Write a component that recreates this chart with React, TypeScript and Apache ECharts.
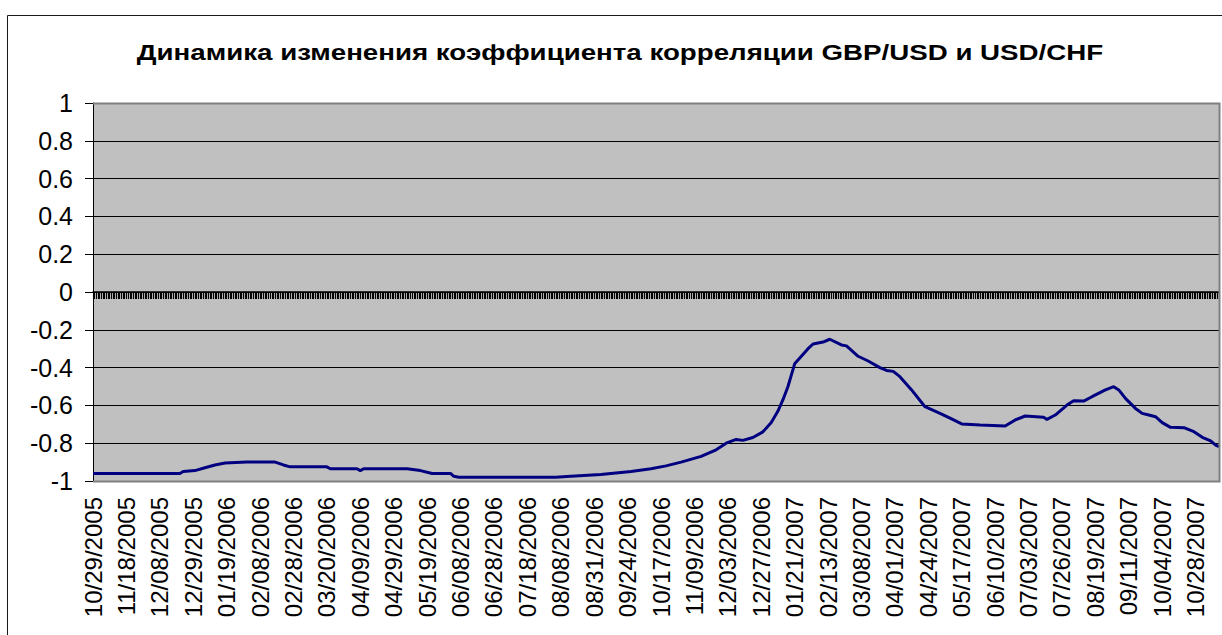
import React, { useEffect, useRef } from 'react';
import * as echarts from 'echarts';

const TITLE = 'Динамика изменения коэффициента корреляции GBP/USD и USD/CHF';

// Category tick labels (one label every LABEL_EVERY categories)
const tickLabels = [
  '10/29/2005', '11/18/2005', '12/08/2005', '12/29/2005', '01/19/2006', '02/08/2006',
  '02/28/2006', '03/20/2006', '04/09/2006', '04/29/2006', '05/19/2006', '06/08/2006',
  '06/28/2006', '07/18/2006', '08/08/2006', '08/31/2006', '09/24/2006', '10/17/2006',
  '11/09/2006', '12/03/2006', '12/27/2006', '01/21/2007', '02/13/2007', '03/08/2007',
  '04/01/2007', '04/24/2007', '05/17/2007', '06/10/2007', '07/03/2007', '07/26/2007',
  '08/19/2007', '09/11/2007', '10/04/2007', '10/28/2007',
];
const LABEL_EVERY = 20;
const LAST_CATEGORY = 674;

// Correlation readings: category index and value
const pointIndex = [
  0, 52, 54, 61, 67, 73, 79, 92, 109, 114, 118, 140, 142, 158, 160, 162, 188, 196, 203, 214,
  216, 219, 277, 286, 304, 322, 334, 343, 352, 364, 373, 379, 385, 389, 395, 401, 406, 410,
  413, 416, 418, 420, 424, 428, 431, 437, 441, 448, 451, 458, 464, 471, 475, 479, 483, 490,
  498, 507, 513, 520, 531, 546, 552, 558, 569, 571, 576, 583, 587, 593, 598, 606, 611, 614,
  618, 624, 628, 632, 636, 640, 645, 653, 659, 664, 669, 672, 674,
];
const pointValue = [
  -0.96, -0.96, -0.95, -0.945, -0.93, -0.915, -0.905, -0.9, -0.9, -0.915, -0.925, -0.925,
  -0.935, -0.935, -0.945, -0.935, -0.935, -0.945, -0.96, -0.96, -0.975, -0.98, -0.98, -0.975,
  -0.965, -0.95, -0.935, -0.92, -0.9, -0.87, -0.835, -0.8, -0.78, -0.785, -0.77, -0.74, -0.69,
  -0.63, -0.57, -0.5, -0.44, -0.38, -0.34, -0.3, -0.275, -0.265, -0.25, -0.28, -0.285, -0.34,
  -0.365, -0.4, -0.415, -0.42, -0.448, -0.518, -0.607, -0.642, -0.667, -0.698, -0.704, -0.709,
  -0.677, -0.656, -0.663, -0.674, -0.651, -0.598, -0.575, -0.577, -0.554, -0.518, -0.501,
  -0.518, -0.563, -0.616, -0.642, -0.651, -0.66, -0.691, -0.716, -0.718, -0.739, -0.769,
  -0.788, -0.81, -0.818,
];

const Y_MIN = -1;
const Y_MAX = 1;
const Y_STEP = 0.2;

const FONT = '"Liberation Sans", Arial, sans-serif';

export default function App() {
  const ref = useRef<HTMLDivElement>(null);

  useEffect(() => {
    if (!ref.current) return;
    const chart = echarts.init(ref.current, null, { renderer: 'svg' });

    let titleScale = 1;
    try {
      const ctx = document.createElement('canvas').getContext('2d');
      if (ctx) {
        ctx.font = 'bold 22px "Liberation Sans"';
        const w = ctx.measureText(TITLE).width;
        if (w > 0) titleScale = 967 / w;
      }
    } catch (e) {
      titleScale = 1;
    }

    const gl = 93, gt = 103, gw = 1126, gh = 378;

    chart.setOption({
      animation: false,
      backgroundColor: '#ffffff',
      grid: { left: gl, top: gt, width: gw, height: gh, show: true, backgroundColor: '#C0C0C0', borderWidth: 0 },
      graphic: [
        {
          type: 'rect',
          shape: { x: 7.5, y: 15.5, width: 1300, height: 700 },
          style: { fill: 'none', stroke: '#1a1a1a', lineWidth: 1 },
          z: 1,
        },
        {
          type: 'polyline',
          shape: { points: [[gl, gt + 0.5], [gl + gw + 0.5, gt + 0.5], [gl + gw + 0.5, gt + gh + 0.5], [gl, gt + gh + 0.5]] },
          style: { fill: 'none', stroke: '#808080', lineWidth: 2 },
          z: 50,
        },
        {
          type: 'text',
          x: 620,
          y: 52.5,
          scaleX: titleScale,
          style: {
            text: TITLE,
            font: 'bold 22px ' + FONT,
            fill: '#000000',
            textAlign: 'center',
            textVerticalAlign: 'middle',
          },
          z: 60,
        },
      ],
      xAxis: [
        {
          type: 'value',
          min: 0,
          max: LAST_CATEGORY,
          interval: LABEL_EVERY,
          position: 'bottom',
          axisLine: { show: false, onZero: false },
          axisTick: { show: false },
          splitLine: { show: false },
          axisLabel: {
            rotate: 90,
            margin: 16,
            fontSize: 24,
            fontFamily: FONT,
            color: '#000000',
            hideOverlap: false,
            formatter: (v: number) => {
              const k = v / LABEL_EVERY;
              return Number.isInteger(k) && tickLabels[k] ? tickLabels[k] : '';
            },
          },
        },
        {
          type: 'value',
          min: 0,
          max: LAST_CATEGORY,
          interval: 1,
          position: 'bottom',
          axisLine: { show: true, onZero: true, lineStyle: { color: '#000000', width: 1.5 } },
          axisTick: { show: true, length: 7, lineStyle: { color: '#000000', width: 1.1 } },
          axisLabel: { show: false },
          splitLine: { show: false },
        },
      ],
      yAxis: {
        type: 'value',
        min: Y_MIN,
        max: Y_MAX,
        interval: Y_STEP,
        axisLine: { show: true, onZero: false, lineStyle: { color: '#000000', width: 1 } },
        axisTick: { show: true, length: 8, lineStyle: { color: '#000000', width: 1 } },
        splitLine: { show: true, lineStyle: { color: '#000000', width: 1 } },
        axisLabel: {
          margin: 20,
          fontSize: 25,
          fontFamily: FONT,
          color: '#000000',
          formatter: (v: number) => String(Math.round(v * 10) / 10),
        },
      },
      series: [
        {
          type: 'line',
          xAxisIndex: 0,
          data: pointIndex.map((x, i) => [x, pointValue[i]]),
          showSymbol: false,
          symbol: 'none',
          lineStyle: { color: '#000080', width: 3 },
          z: 40,
        },
      ],
    });

    return () => chart.dispose();
  }, []);

  return (
    <div
      ref={ref}
      style={{ position: 'absolute', left: 0, top: 0, width: 1222, height: 635 }}
    />
  );
}
